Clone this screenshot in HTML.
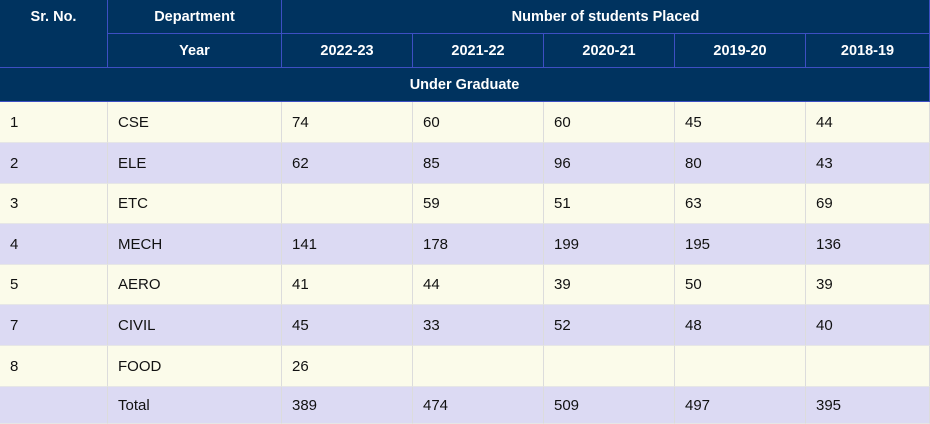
<!DOCTYPE html>
<html><head><meta charset="utf-8"><style>
body{margin:0;width:930px;height:424px;overflow:hidden;background:#fff;font-family:"Liberation Sans",sans-serif;}
#t{position:relative;width:930px;height:424px;}
.c{position:absolute;box-sizing:border-box;display:flex;align-items:center;font-size:15px;color:#111;}
.h{background:#00335f;color:#fff;font-weight:bold;font-size:14.5px;justify-content:center;border-right:1px solid #3d4fc2;border-bottom:1px solid #3d4fc2;}
.d{border-right:1px solid #dcdcdc;border-bottom:1px solid #e6e6e6;padding-left:10px;}
</style></head><body>
<div id="t">
<div style="position:absolute;left:0;top:0;width:930px;height:102px;box-sizing:border-box;border:1px solid #3d4fc2;background:#00335f;"></div>
</div>
<script>
const cols=[0,108,282,413,544,675,806,930];
const rows=[102,143,184,224,265,305,346,387,424];
const years=['2022-23','2021-22','2020-21','2019-20','2018-19'];
const data=[
['1','CSE','74','60','60','45','44'],
['2','ELE','62','85','96','80','43'],
['3','ETC','','59','51','63','69'],
['4','MECH','141','178','199','195','136'],
['5','AERO','41','44','39','50','39'],
['7','CIVIL','45','33','52','48','40'],
['8','FOOD','26','','','',''],
['','Total','389','474','509','497','395']];
const t=document.getElementById('t');
function cell(x,y,w,h,txt,cls,name){
 const e=document.createElement('div');
 e.className='c '+cls;
 e.style.left=x+'px';e.style.top=y+'px';e.style.width=w+'px';e.style.height=h+'px';
 e.textContent=txt;
 
 
 t.appendChild(e);return e;}
cell(0,0,108,68,'','h','sr-no-header').innerHTML='<span style="position:absolute;top:9px">Sr. No.</span>';
cell(108,0,174,34,'Department','h','department-header');
cell(108,34,174,34,'Year','h','year-header');
cell(282,0,648,34,'Number of students Placed','h','placed-header');
years.forEach((y,i)=>cell(cols[i+2],34,cols[i+3]-cols[i+2],34,y,'h','year-'+y));
cell(0,68,930,34,'Under Graduate','h','under-graduate-header');
data.forEach((r,ri)=>{
 const bg=ri%2==0?'#fbfbea':'#dcdaf3';
 r.forEach((v,ci)=>{
  const e=cell(cols[ci],rows[ri],cols[ci+1]-cols[ci],rows[ri+1]-rows[ri],v,'d','cell-r'+ri+'-c'+ci);
  e.style.background=bg;
 });
});
</script>
</body></html>
